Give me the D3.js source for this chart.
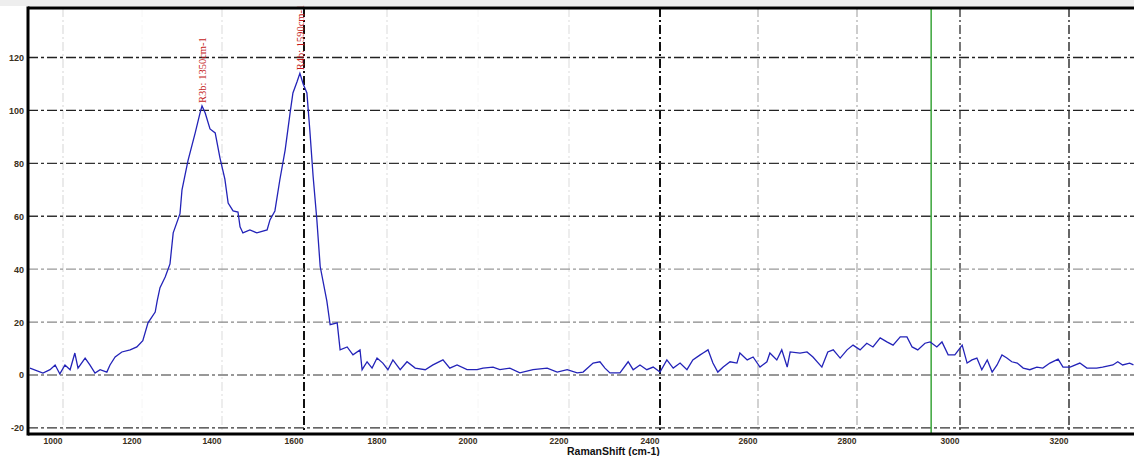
<!DOCTYPE html>
<html>
<head>
<meta charset="utf-8">
<script src="https://cdn.jsdelivr.net/npm/d3@7"></script>
<style>
  html, body { margin: 0; padding: 0; background: #fff; }
  #chart { width: 1134px; height: 456px; overflow: hidden; }
  text { font-family: "Liberation Sans", Arial, sans-serif; }
</style>
</head>
<body>
<div id="chart"></div>
<script>
// Raman shift (cm-1) and intensity
var shift = [916, 949, 967, 980, 992, 1005, 1018, 1030, 1038, 1056, 1068, 1081, 1094, 1111, 1119, 1132,
  1149, 1170, 1187, 1202, 1215, 1233, 1238, 1245, 1258, 1270, 1278, 1295, 1300, 1315, 1333, 1345,
  1350, 1358, 1370, 1383, 1395, 1407, 1415, 1427, 1439, 1444, 1451, 1468, 1485, 1510, 1517, 1529,
  1541, 1554, 1566, 1573, 1583, 1590, 1598, 1607, 1614, 1622, 1631, 1639, 1655, 1663, 1680, 1687,
  1704, 1718, 1735, 1740, 1752, 1764, 1776, 1790, 1802, 1813, 1829, 1844, 1862, 1884, 1901, 1923,
  1938, 1954, 1976, 1998, 2011, 2033, 2048, 2070, 2092, 2121, 2152, 2174, 2196, 2218, 2231, 2253,
  2268, 2279, 2290, 2312, 2330, 2341, 2356, 2371, 2385, 2400, 2414, 2427, 2441, 2455, 2467, 2482,
  2488, 2498, 2508, 2518, 2529, 2543, 2557, 2563, 2578, 2590, 2604, 2618, 2624, 2638, 2648, 2659,
  2665, 2685, 2699, 2711, 2729, 2741, 2752, 2766, 2780, 2792, 2806, 2819, 2831, 2845, 2858, 2870,
  2884, 2897, 2907, 2918, 2932, 2942, 2955, 2965, 2977, 2990, 3004, 3013, 3022, 3031, 3040, 3050,
  3059, 3068, 3077, 3086, 3095, 3105, 3116, 3128, 3141, 3152, 3165, 3180, 3189, 3202, 3220, 3233,
  3251, 3262, 3281, 3290, 3299, 3312, 3319];
var intensity = [2.6, 0.7, 2, 3.8, 0.4, 3.8, 2, 8.3, 2.6, 6.4, 3.8, 0.7, 2, 1.1, 3.8, 6.8,
  8.7, 9.5, 10.6, 13, 19.7, 23.8, 28, 33, 37, 42, 53.7, 61, 70, 81, 91.5, 99,
  101.7, 99, 93, 91.5, 82, 74, 65, 62, 61.6, 56, 53.7, 54.8, 53.7, 54.8, 58.6, 62,
  73.7, 85, 99, 106.6, 110.8, 114, 110, 106.6, 92.6, 75, 58.6, 41, 28, 19, 19.7, 9.5,
  10.6, 7.6, 9.5, 2, 5, 2.6, 6.4, 4.5, 2, 5.7, 2, 5, 2.6, 2, 3.8, 5.7,
  2.6, 3.8, 2, 2, 2.6, 3, 2, 2.6, 0.8, 2, 2.6, 1.1, 2, 0.8, 1.1, 4.5,
  5, 2.6, 0.8, 0.8, 5, 2, 3.8, 2, 3, 1.1, 5.7, 2.6, 4.5, 2, 5.7, 7.6,
  8.3, 9.5, 4.5, 1.1, 3, 5, 4.5, 8.3, 5.7, 6.8, 3, 5, 8.3, 5.7, 9.5, 3,
  8.7, 8.3, 8.7, 6.8, 3, 8.7, 9.5, 6.4, 9.5, 11.3, 9.5, 12, 10.6, 14, 12.5, 11.3,
  14.4, 14.4, 10.6, 9.5, 12, 12.5, 10.6, 12.5, 7.6, 7.6, 11.3, 4.5, 5.7, 6.4, 2, 5.7,
  1.1, 3.8, 7.6, 6.4, 5, 4.5, 2.6, 2, 3, 2.6, 4.5, 6, 3, 3, 4.5, 2.6,
  2.6, 3, 3.8, 5, 3.8, 4.5, 3.8];

var xTicks = [1000, 1200, 1400, 1600, 1800, 2000, 2200, 2400, 2600, 2800, 3000, 3200];
var yTicks = [120, 100, 80, 60, 40, 20, 0, -20];

var peakShift = [1350, 1590];
var peakIntensity = [101.7, 114];
var peakLabels = ['R3b: 1350cm-1', 'R4b: 1590cm-1'];

var cursorShift = 2944;
var xTitle = 'RamanShift (cm-1)';

(function () {
  'use strict';

  var W = 1134, H = 456;
  var left = 28, top = 8, bottom = 434;

  // the picture is stretched unevenly, so the x scale is piecewise
  var x = d3.scaleLinear()
    .domain([911].concat(xTicks, [3320]))
    .range([left, 63, 142, 222, 304, 387, 478, 569, 660, 758, 857, 960, 1069, W]);
  var y = d3.scaleLinear().domain([-22.3, 138.7]).range([bottom, top]);

  var svg = d3.select('#chart').append('svg')
    .attr('width', W).attr('height', H);

  svg.append('rect').attr('x', 0).attr('y', 0).attr('width', W).attr('height', 6).attr('fill', '#eeeeee');

  // vertical grid, styled per tick
  var vStyle = {
    1000: ['#dddddd', 1.2], 1200: ['#f6f6f6', 1], 1400: ['#e2e2e2', 1.2], 1600: ['#111', 2],
    1800: ['#e2e2e2', 1.2], 2000: ['#f6f6f6', 1], 2200: ['#e2e2e2', 1.2], 2400: ['#111', 2],
    2600: ['#c4c4c4', 1.5], 2800: ['#bdbdbd', 1.5], 3000: ['#777', 2], 3200: ['#666', 2]
  };
  svg.append('g').selectAll('line').data(xTicks).join('line')
    .attr('x1', function (d) { return x(d); })
    .attr('x2', function (d) { return x(d); })
    .attr('y1', top).attr('y2', bottom)
    .attr('stroke', function (d) { return vStyle[d][0]; })
    .attr('stroke-width', function (d) { return vStyle[d][1]; })
    .attr('stroke-dasharray', '9,3,2,3');

  // horizontal grid
  var hStyle = { 120: '#222', 100: '#222', 80: '#333', 60: '#333', 40: '#999', 20: '#888', 0: '#777', '-20': '#333' };
  svg.append('g').selectAll('line').data(yTicks).join('line')
    .attr('x1', left).attr('x2', W)
    .attr('y1', function (d) { return y(d); })
    .attr('y2', function (d) { return y(d); })
    .attr('stroke', function (d) { return hStyle[d]; })
    .attr('stroke-width', 1.3)
    .attr('stroke-dasharray', '10,3,3,3');

  // green cursor line
  svg.append('line')
    .attr('x1', x(cursorShift)).attr('x2', x(cursorShift))
    .attr('y1', top).attr('y2', bottom)
    .attr('stroke', '#3aa53a').attr('stroke-width', 1.5);

  // spectrum
  var pts = shift.map(function (s, k) { return [s, intensity[k]]; });
  svg.append('path')
    .datum(pts)
    .attr('fill', 'none')
    .attr('stroke', '#2323b8')
    .attr('stroke-width', 1.3)
    .attr('d', d3.line()
      .x(function (d) { return x(d[0]); })
      .y(function (d) { return y(d[1]); }));

  // peak labels, rotated
  svg.append('g').selectAll('text').data(peakShift).join('text')
    .attr('transform', function (d, k) {
      return 'translate(' + (x(d) + 4) + ',' + (y(peakIntensity[k]) - 3) + ') rotate(-90)';
    })
    .attr('fill', '#c41a1a')
    .style('font-family', '"Liberation Serif", serif')
    .style('font-size', '10.5px')
    .text(function (d, k) { return peakLabels[k]; });

  // frame
  svg.append('line').attr('x1', left).attr('x2', W).attr('y1', top).attr('y2', top)
    .attr('stroke', '#000').attr('stroke-width', 3);
  svg.append('line').attr('x1', left).attr('x2', W).attr('y1', bottom).attr('y2', bottom)
    .attr('stroke', '#000').attr('stroke-width', 3);
  svg.append('line').attr('x1', left).attr('x2', left).attr('y1', top - 1.5).attr('y2', bottom + 1.5)
    .attr('stroke', '#000').attr('stroke-width', 3);

  // y tick labels
  svg.append('g').selectAll('text').data(yTicks).join('text')
    .attr('x', 24)
    .attr('y', function (d) { return y(d) + 3.5; })
    .attr('text-anchor', 'end')
    .attr('font-size', 9)
    .attr('font-weight', 'bold')
    .attr('fill', '#3a3020')
    .text(function (d) { return d; });

  // x tick labels sit a little left of their grid lines
  svg.append('g').selectAll('text').data(xTicks).join('text')
    .attr('x', function (d) { return x(d) - 10; })
    .attr('y', 444)
    .attr('text-anchor', 'middle')
    .attr('font-size', 8.5)
    .attr('font-weight', 'bold')
    .attr('fill', '#3a3020')
    .text(function (d) { return d; });

  svg.append('text')
    .attr('x', 567).attr('y', 455)
    .attr('font-size', 10.5)
    .attr('font-weight', 'bold')
    .attr('fill', '#111')
    .text(xTitle);
})();
</script>
</body>
</html>
